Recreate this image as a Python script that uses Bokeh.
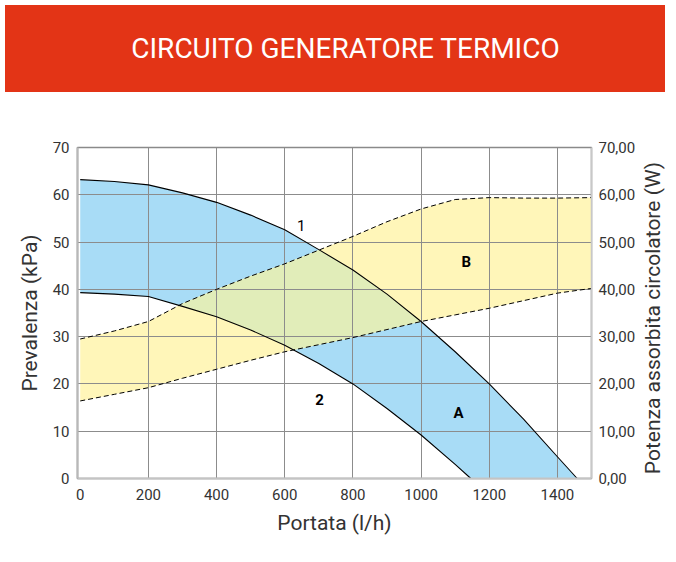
import numpy as np
from bokeh.plotting import figure
from bokeh.models import (LinearAxis, FixedTicker, Label, Div,
                          CustomJSTickFormatter, Range1d)
from bokeh.layouts import column, row
from bokeh.embed import file_html
from bokeh.resources import INLINE

# ---------------- data ----------------
title_text = "CIRCUITO GENERATORE TERMICO"
x_label = "Portata (l/h)"
y_label = "Prevalenza (kPa)"
y2_label = "Potenza assorbita circolatore (W)"

x_ticks = [0, 200, 400, 600, 800, 1000, 1200, 1400]
y_ticks = [0, 10, 20, 30, 40, 50, 60, 70]

# curve 1 (upper head curve)
c1_x = [0, 100, 200, 300, 400, 500, 600, 700, 800, 900, 1000, 1100, 1200, 1300, 1400, 1458]
c1_y = [63.2, 62.8, 62.1, 60.4, 58.4, 55.7, 52.6, 48.4, 44.1, 39.0, 33.2, 26.8, 20.0, 12.6, 4.6, 0.0]
# curve 2 (lower head curve)
c2_x = [0, 100, 200, 300, 400, 500, 600, 700, 800, 900, 1000, 1100, 1146]
c2_y = [39.3, 39.0, 38.5, 36.4, 34.2, 31.4, 28.2, 24.3, 20.0, 14.8, 9.2, 3.0, 0.0]
# power band (dashed)
p_x = [0, 100, 200, 300, 400, 500, 600, 700, 800, 900, 1000, 1100, 1200, 1300, 1400, 1500]
p_hi = [29.5, 31.2, 33.2, 37.0, 40.0, 42.8, 45.4, 48.3, 51.2, 54.3, 57.0, 59.0, 59.4, 59.3, 59.3, 59.4]
p_lo = [16.4, 17.8, 19.2, 21.2, 23.1, 25.0, 26.8, 28.3, 29.8, 31.5, 33.2, 34.6, 36.0, 37.6, 39.2, 40.2]

region_labels = ["1", "2", "A", "B"]
region_lx = [648, 702, 1110, 1133]
region_ly = [53.6, 16.8, 13.8, 45.7]

# ---------------- styles ----------------
FONT = "Roboto"
RED = "#e33416"
BLUE = "#a8dcf6"
YELLOW = "#fff6b9"
GREEN = "#e1edb9"
GRID = "#8c8c8c"
TXT = "#333333"

W = 660
RW = 22      # width of the right-hand title strip
CH = 459     # chart height

# ---------------- header ----------------
header = Div(
    text=('<div style="width:660px;height:87px;line-height:87px;text-align:center;'
          'background-color:%s;color:white;font-family:Roboto;font-size:28px;'
          'padding-left:21px;box-sizing:border-box;">%s</div>') % (RED, title_text),
    width=W, height=87)

# ---------------- right title (reads upwards) ----------------
right_title = Div(
    text=('<div style="position:relative;width:%dpx;height:%dpx;">'
          '<div style="position:absolute;left:-190px;top:204px;width:400px;height:24px;'
          'line-height:24px;text-align:center;white-space:nowrap;transform:rotate(-90deg);'
          'font-family:Roboto;font-size:21px;color:%s;">%s</div></div>')
         % (RW, CH, TXT, y2_label),
    width=RW, height=CH)

# ---------------- chart ----------------
p = figure(width=W - RW, height=CH, x_range=Range1d(-8, 1500), y_range=Range1d(0, 70),
           toolbar_location=None, output_backend="svg",
           min_border_left=77, min_border_right=45, min_border_top=50,
           min_border_bottom=78)
p.background_fill_color = "white"
p.border_fill_color = "white"
p.outline_line_color = "#8a8a8a"
p.outline_line_width = 1.5

# blue band (between curve 1 and curve 2, down to zero)
blue_x = c1_x + c2_x[::-1]
blue_y = c1_y + c2_y[::-1]
r = p.patch(blue_x, blue_y, fill_color=BLUE, line_color=None)
r.level = "image"

# yellow band (power)
yel_x = p_x + p_x[::-1]
yel_y = p_hi + p_lo[::-1]
r = p.patch(yel_x, yel_y, fill_color=YELLOW, line_color=None)
r.level = "image"

# overlap (intersection of the two bands)
xf = np.linspace(0, 1500, 3001)
c1f = np.interp(xf, c1_x, c1_y, right=0.0)
c2f = np.interp(xf, c2_x, c2_y, right=0.0)
phf = np.interp(xf, p_x, p_hi)
plf = np.interp(xf, p_x, p_lo)
up = np.minimum(c1f, phf)
lo = np.maximum(c2f, plf)
m = up > lo
gx = xf[m]
gx_poly = list(gx) + list(gx[::-1])
gy_poly = list(up[m]) + list(lo[m][::-1])
r = p.patch(gx_poly, gy_poly, fill_color=GREEN, line_color=None)
r.level = "image"

# lines
p.line(c1_x, c1_y, line_color="black", line_width=1.1)
p.line(c2_x, c2_y, line_color="black", line_width=1.1)
p.line(p_x, p_hi, line_color="black", line_width=1, line_dash="5 3")
p.line(p_x, p_lo, line_color="black", line_width=1, line_dash="5 3")

for t, lx, ly in zip(region_labels, region_lx, region_ly):
    p.add_layout(Label(x=lx, y=ly, text=t, text_align="center", text_baseline="middle",
                       text_font=FONT, text_font_size="15px", text_color="black",
                       text_font_style="bold" if t != "1" else "normal"))

# axes
def style_axis(ax, label, title_size="21px", lab_size="15px"):
    ax.axis_label = label
    ax.axis_label_text_font = FONT
    ax.axis_label_text_font_size = title_size
    ax.axis_label_text_font_style = "normal"
    ax.axis_label_text_color = TXT
    ax.axis_label_standoff = 8
    ax.major_label_text_font = FONT
    ax.major_label_text_font_size = lab_size
    ax.major_label_text_color = TXT
    ax.major_tick_out = 0
    ax.major_tick_in = 0
    ax.minor_tick_out = 0
    ax.minor_tick_in = 0

xa = p.xaxis[0]
xa.ticker = FixedTicker(ticks=x_ticks)
style_axis(xa, x_label)
xa.major_label_standoff = 10
xa.axis_line_color = "#c4c4c4"
xa.axis_line_width = 2

ya = p.yaxis[0]
ya.ticker = FixedTicker(ticks=y_ticks)
style_axis(ya, y_label)
ya.major_label_standoff = 8
ya.axis_line_color = "#b8b8b8"
ya.axis_line_width = 2

y2 = LinearAxis(ticker=FixedTicker(ticks=y_ticks),
                formatter=CustomJSTickFormatter(code="return tick.toFixed(2).replace('.', ',');"))
style_axis(y2, None, lab_size="15px")
y2.major_label_standoff = 7
y2.axis_line_color = "#c8c8c8"
y2.axis_line_width = 1.5
p.add_layout(y2, "right")

p.xgrid.ticker = FixedTicker(ticks=x_ticks[1:])
p.ygrid.ticker = FixedTicker(ticks=y_ticks[1:-1])
p.grid.grid_line_color = GRID
p.grid.grid_line_width = 1

layout = column(header, row(p, right_title, spacing=0), spacing=0)
open("out.html", "w").write(file_html(layout, INLINE))
